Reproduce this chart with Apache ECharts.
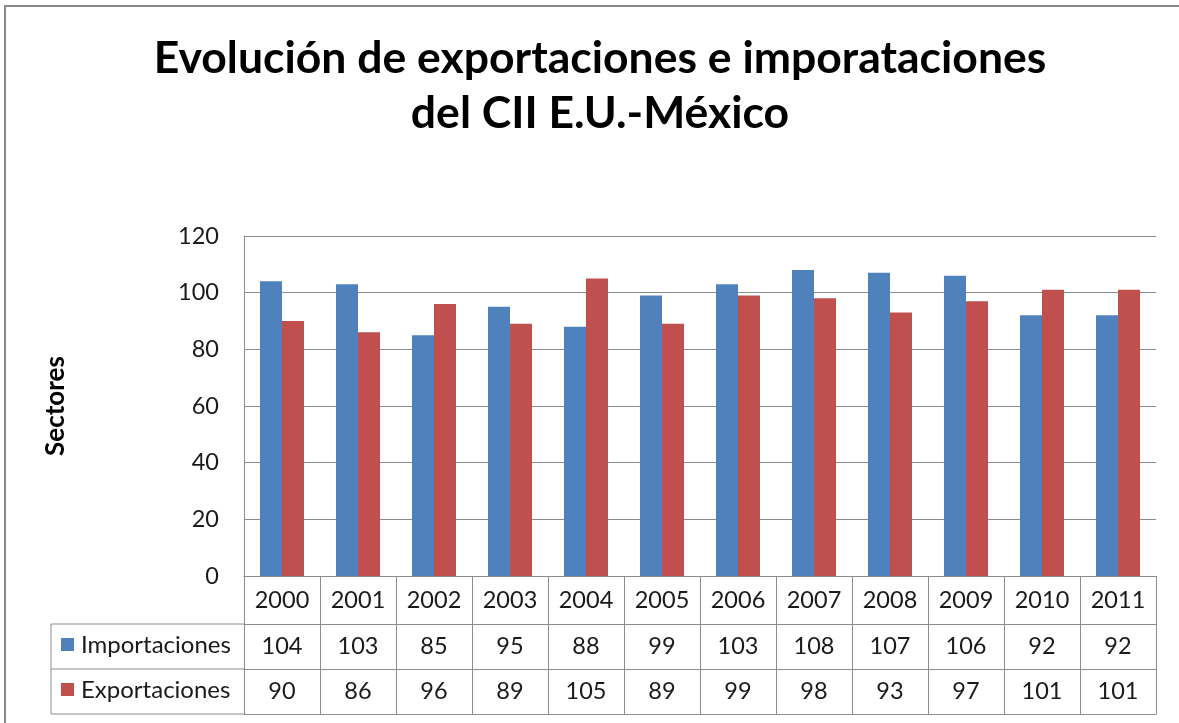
<!DOCTYPE html>
<html>
<head>
<meta charset="utf-8">
<script src="https://cdn.jsdelivr.net/npm/echarts@6/dist/echarts.min.js"></script>
<style>
  html, body { margin: 0; padding: 0; background: #fff; }
  #chart { width: 1179px; height: 723px; }
</style>
</head>
<body>
<div id="chart"></div>
<script>
const years = ["2000", "2001", "2002", "2003", "2004", "2005", "2006", "2007", "2008", "2009", "2010", "2011"];
const importaciones = [104, 103, 85, 95, 88, 99, 103, 108, 107, 106, 92, 92];
const exportaciones = [90, 86, 96, 89, 105, 89, 99, 98, 93, 97, 101, 101];
const seriesNames = ["Importaciones", "Exportaciones"];
const colors = ["#4f81bd", "#c0504d"];

const FONT = "Lato";
const lineColor = "#8c8c8c";
const labelSize = 23.5;

// filas de la tabla de datos (alto en px)
const rowYear = 48;
const rowVal = 45;

function tableAxis(offset, tickLen, labels) {
  return {
    type: "category",
    gridIndex: 0,
    position: "bottom",
    offset: offset,
    data: years,
    axisLine: { show: true, lineStyle: { color: lineColor, width: 1 } },
    axisTick: { show: tickLen > 0, length: tickLen, interval: 0, lineStyle: { color: lineColor } },
    axisLabel: {
      show: !!labels,
      interval: 0,
      margin: tickLen / 2,
      verticalAlign: "middle",
      fontFamily: FONT,
      fontSize: labelSize,
      color: "#1a1a1a",
      formatter: function (v, i) {
        return labels ? String(labels[i]) : "";
      },
    },
    splitLine: { show: false },
  };
}

const chart = echarts.init(document.getElementById("chart"));

const option = {
  animation: false,
  backgroundColor: "#fff",
  title: {
    text: "Evolución de exportaciones e imporataciones\ndel CII E.U.-México",
    left: 595,
    textAlign: "center",
    top: 26,
    textStyle: {
      fontFamily: FONT,
      fontWeight: "bold",
      fontSize: 44.5,
      lineHeight: 55,
      color: "#000",
    },
  },
  grid: { left: 244, right: 23, top: 236, bottom: 147, containLabel: false },
  xAxis: [
    tableAxis(0, rowYear, years),
    tableAxis(rowYear, rowVal, importaciones),
    tableAxis(rowYear + rowVal, rowVal, exportaciones),
    tableAxis(rowYear + rowVal * 2, 0, null),
  ],
  yAxis: {
    type: "value",
    min: 0,
    max: 120,
    interval: 20,
    name: "Sectores",
    nameLocation: "middle",
    nameRotate: 90,
    nameGap: 175,
    nameTextStyle: { fontFamily: FONT, fontWeight: "bold", fontSize: 26, color: "#000" },
    axisLine: { show: true, lineStyle: { color: lineColor } },
    axisTick: { show: false },
    axisLabel: { fontFamily: FONT, fontSize: labelSize, color: "#1a1a1a", margin: 25 },
    splitLine: { show: true, lineStyle: { color: lineColor, width: 1 } },
  },
  series: [
    {
      name: seriesNames[0],
      type: "bar",
      xAxisIndex: 0,
      data: importaciones,
      barWidth: 22,
      barGap: "0%",
      itemStyle: { color: colors[0] },
    },
    {
      name: seriesNames[1],
      type: "bar",
      xAxisIndex: 0,
      data: exportaciones,
      barWidth: 22,
      barGap: "0%",
      itemStyle: { color: colors[1] },
    },
  ],
  graphic: [
    // borde exterior del gráfico
    {
      type: "rect",
      shape: { x: 5, y: 6, width: 1300, height: 900 },
      style: { fill: null, stroke: "#8a8a8a", lineWidth: 2 },
      silent: true,
    },
    // celdas de leyenda de la tabla
    {
      type: "polyline",
      shape: { points: [[244, 624], [51, 624], [51, 714], [244, 714]] },
      style: { fill: null, stroke: lineColor, lineWidth: 1 },
    },
    {
      type: "line",
      shape: { x1: 51, y1: 669, x2: 244, y2: 669 },
      style: { stroke: lineColor, lineWidth: 1 },
    },
    {
      type: "rect",
      shape: { x: 61, y: 638, width: 13, height: 13 },
      style: { fill: colors[0] },
    },
    {
      type: "text",
      x: 81,
      y: 645,
      style: { text: seriesNames[0], fontFamily: FONT, fontSize: 24, fill: "#1a1a1a", verticalAlign: "middle" },
    },
    {
      type: "rect",
      shape: { x: 61, y: 683, width: 13, height: 13 },
      style: { fill: colors[1] },
    },
    {
      type: "text",
      x: 81,
      y: 690,
      style: { text: seriesNames[1], fontFamily: FONT, fontSize: 24, fill: "#1a1a1a", verticalAlign: "middle" },
    },
  ],
};

chart.setOption(option);
</script>
</body>
</html>
